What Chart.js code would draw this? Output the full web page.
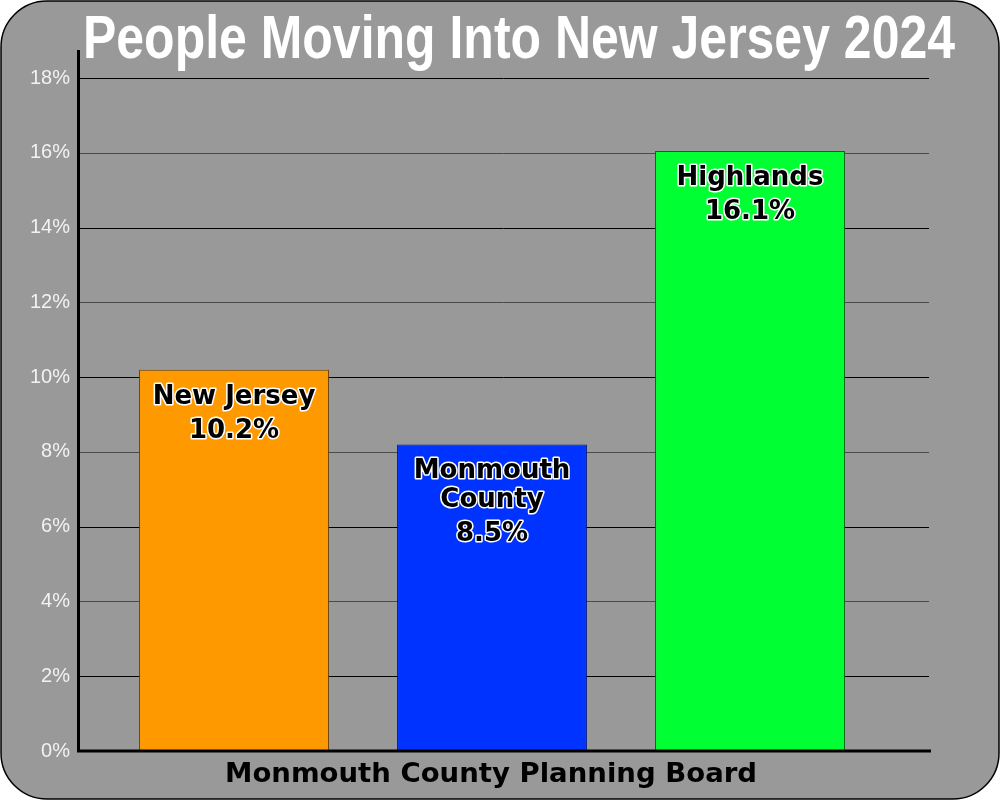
<!DOCTYPE html>
<html>
<head>
<meta charset="utf-8">
<title>People Moving Into New Jersey 2024</title>
<script src="https://cdn.jsdelivr.net/npm/chart.js@4.4.1/dist/chart.umd.min.js"></script>
<style>
  html, body { margin: 0; padding: 0; background: #fff; }
  #wrap { width: 1000px; height: 800px; }
</style>
</head>
<body>
<div id="wrap"><canvas id="movingChart" width="1000" height="800"></canvas></div>
<script>
  "use strict";

  // data
  const categories = ['New Jersey', 'Monmouth County', 'Highlands'];
  const barLines = [['New Jersey'], ['Monmouth', 'County'], ['Highlands']];
  const barValues = [10.2, 8.2, 16.05];
  const valueLabels = ['10.2%', '8.5%', '16.1%'];
  const barColors = ['#FF9900', '#0033FF', '#00FF33'];
  const barBorders = ['#6b4000', '#001a80', '#006b14'];
  const yMin = 0;
  const yMax = 18;
  const yStep = 2;

  const titleText = 'People Moving Into New Jersey 2024';
  const footerText = 'Monmouth County Planning Board';

  // rounded grey frame behind everything
  const framePlugin = {
    id: 'frame',
    beforeDraw(chart) {
      const ctx = chart.ctx;
      const w = chart.width, h = chart.height, r = 46;
      ctx.save();
      ctx.fillStyle = '#fff';
      ctx.fillRect(0, 0, w, h);
      ctx.beginPath();
      ctx.roundRect(1, 1, w - 2, h - 2, r);
      ctx.fillStyle = '#999999';
      ctx.fill();
      ctx.lineWidth = 1.5;
      ctx.strokeStyle = '#000';
      ctx.stroke();
      ctx.restore();
    }
  };

  // grid lines run wider than the bar area
  const gridPlugin = {
    id: 'wideGrid',
    beforeDatasetsDraw(chart) {
      const ctx = chart.ctx;
      const area = chart.chartArea;
      const y = chart.scales.y;
      const left = area.left - 27;
      const right = area.right + 50;
      ctx.save();
      ctx.lineWidth = 1;
      y.ticks.forEach(function (t) {
        if (t.value === yMin) return;
        const py = Math.round(y.getPixelForValue(t.value)) + 0.5;
        ctx.strokeStyle = (t.value / yStep) % 2 === 0 ? '#4a4a4a' : '#000';
        ctx.beginPath();
        ctx.moveTo(left, py);
        ctx.lineTo(right, py);
        ctx.stroke();
      });
      ctx.restore();
    }
  };

  function outlinedText(ctx, text, x, y) {
    ctx.strokeText(text, x, y);
    ctx.fillText(text, x, y);
  }

  function fitText(ctx, text, cx, baseline, width) {
    const w = ctx.measureText(text).width;
    ctx.save();
    ctx.translate(cx, baseline);
    ctx.scale(width / w, 1);
    ctx.fillText(text, 0, 0);
    ctx.restore();
  }

  const overlayPlugin = {
    id: 'overlay',
    afterDatasetsDraw(chart) {
      const ctx = chart.ctx;
      const area = chart.chartArea;
      const y = chart.scales.y;
      const axisX = area.left - 27;
      const zeroY = y.getPixelForValue(yMin);

      ctx.save();
      // axes
      ctx.strokeStyle = '#000';
      ctx.lineWidth = 3;
      ctx.beginPath();
      ctx.moveTo(axisX + 0.5, 50);
      ctx.lineTo(axisX + 0.5, zeroY + 1);
      ctx.moveTo(axisX - 1, zeroY);
      ctx.lineTo(area.right + 52, zeroY);
      ctx.stroke();

      // labels inside the bars
      ctx.font = 'bold 26px "DejaVu Sans", Arial, sans-serif';
      ctx.textAlign = 'center';
      ctx.textBaseline = 'alphabetic';
      ctx.lineJoin = 'round';
      ctx.lineWidth = 3;
      ctx.strokeStyle = '#fff';
      ctx.fillStyle = '#000';
      chart.getDatasetMeta(0).data.forEach(function (bar, i) {
        let py = bar.y + 34;
        barLines[i].forEach(function (line, k) {
          if (k > 0) py += 29;
          outlinedText(ctx, line, bar.x, py);
        });
        outlinedText(ctx, valueLabels[i], bar.x, py + 34);
      });

      // title
      ctx.fillStyle = '#fff';
      ctx.font = 'bold 62px "Liberation Sans Narrow", "Liberation Sans", Arial, sans-serif';
      fitText(ctx, titleText, 519, 58, 872);

      // footer
      ctx.fillStyle = '#000';
      ctx.font = 'bold 27px "DejaVu Sans", Arial, sans-serif';
      fitText(ctx, footerText, 491, 782, 532);
      ctx.restore();
    }
  };

  const ctx = document.getElementById('movingChart').getContext('2d');
  const movingChart = new Chart(ctx, {
    type: 'bar',
    data: {
      labels: categories,
      datasets: [{
        label: 'People moving in',
        data: barValues,
        backgroundColor: barColors,
        borderColor: barBorders,
        borderWidth: 1,
        borderSkipped: false,
        categoryPercentage: 1,
        barPercentage: 0.736
      }]
    },
    options: {
      responsive: false,
      animation: false,
      devicePixelRatio: 1,
      layout: {
        padding: { top: 78, right: 121, left: 0, bottom: 0 }
      },
      plugins: {
        legend: { display: false },
        tooltip: { enabled: false },
        title: { display: false }
      },
      scales: {
        x: {
          ticks: { display: false },
          grid: { display: false },
          border: { display: false },
          afterFit: function (scale) { scale.height = 49; }
        },
        y: {
          min: yMin,
          max: yMax,
          ticks: {
            stepSize: yStep,
            padding: 27,
            color: '#f2f2f2',
            font: { family: '"Liberation Sans", Arial, sans-serif', size: 20 },
            callback: function (v) { return v + '%'; }
          },
          grid: { display: false },
          border: { display: false },
          afterFit: function (scale) { scale.width = 105; }
        }
      }
    },
    plugins: [framePlugin, gridPlugin, overlayPlugin]
  });
</script>
</body>
</html>
